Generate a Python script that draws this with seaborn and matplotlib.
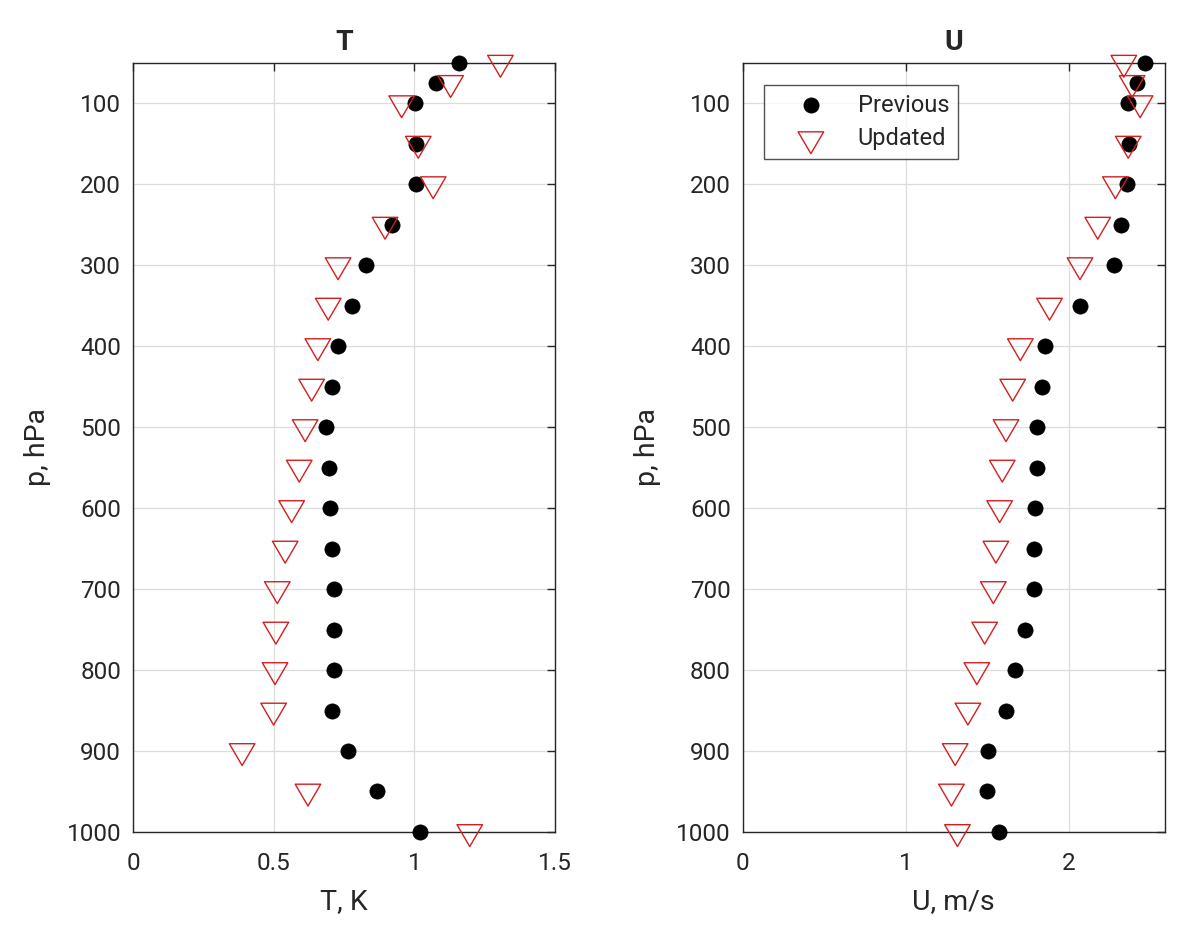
import matplotlib
matplotlib.use("Agg")
import matplotlib.pyplot as plt
from matplotlib.path import Path
import numpy as np
import pandas as pd
import seaborn as sns

# уровни давления, hPa
levels = [50, 75, 100, 150, 200, 250, 300, 350, 400, 450, 500,
          550, 600, 650, 700, 750, 800, 850, 900, 950, 1000]

# T, K
t_previous = [1.158, 1.076, 1.001, 1.007, 1.007, 0.920, 0.830, 0.780, 0.730, 0.707, 0.686,
              0.695, 0.699, 0.707, 0.713, 0.713, 0.713, 0.709, 0.766, 0.869, 1.019]
t_updated = [1.306, 1.129, 0.955, 1.014, 1.067, 0.896, 0.729, 0.694, 0.657, 0.635, 0.612,
             0.591, 0.564, 0.541, 0.513, 0.508, 0.505, 0.500, 0.388, 0.622, 1.197]

# U, m/s
u_previous = [2.470, 2.419, 2.366, 2.368, 2.359, 2.320, 2.281, 2.070, 1.858, 1.836, 1.805,
              1.805, 1.795, 1.789, 1.789, 1.733, 1.671, 1.616, 1.507, 1.499, 1.571]
u_updated = [2.339, 2.390, 2.439, 2.366, 2.287, 2.179, 2.070, 1.883, 1.704, 1.657, 1.616,
             1.593, 1.577, 1.554, 1.538, 1.485, 1.437, 1.382, 1.304, 1.281, 1.318]

series_labels = ["Previous", "Updated"]
panel_titles = ["T", "U"]
x_labels = ["T, K", "U, m/s"]
x_limits = [(0, 1.5), (0, 2.59)]
x_ticks = [[0, 0.5, 1, 1.5], [0, 1, 2]]
y_ticks = [100, 200, 300, 400, 500, 600, 700, 800, 900, 1000]

RED = "#D41E1E"
DARK = "#262626"

# треугольник вершиной вниз, центрированный по центру масс (как в MATLAB)
tri_h = 1.71
tri_down = Path([(-1, tri_h / 3), (1, tri_h / 3), (0, -2 * tri_h / 3), (-1, tri_h / 3)],
                [Path.MOVETO, Path.LINETO, Path.LINETO, Path.CLOSEPOLY])

sns.set_theme(style="white")
plt.rcParams["font.family"] = ["Roboto", "DejaVu Sans"]

fig = plt.figure(figsize=(12, 9.42), dpi=100)
ax_t = fig.add_axes([0.1108, 0.1168, 0.3517, 0.8167])
ax_u = fig.add_axes([0.6189, 0.1168, 0.3517, 0.8167])

panels = [(ax_t, t_previous, t_updated), (ax_u, u_previous, u_updated)]
for i, (ax, prev, upd) in enumerate(panels):
    df = pd.DataFrame({"p": levels, "prev": prev, "upd": upd})
    sns.scatterplot(data=df, x="prev", y="p", ax=ax, marker="o", s=120,
                    color="black", edgecolor="black", linewidth=0.5,
                    label=series_labels[0], zorder=3)
    sns.scatterplot(data=df, x="upd", y="p", ax=ax, marker=tri_down, s=440,
                    facecolor="none", edgecolor=RED, linewidth=1.0,
                    label=series_labels[1], zorder=4)

    ax.set_xlim(*x_limits[i])
    ax.set_ylim(1000, 50)
    ax.set_xticks(x_ticks[i])
    ax.set_xticklabels([f"{v:g}" for v in x_ticks[i]])
    ax.set_yticks(y_ticks)
    ax.grid(True, color="#DCDCDC", linewidth=0.9)
    ax.set_axisbelow(True)
    ax.tick_params(direction="in", top=True, right=True, length=6, width=1,
                   colors=DARK, labelsize=17.5)
    ax.tick_params(axis="x", pad=14.5)
    ax.tick_params(axis="y", pad=8.5)
    for sp in ax.spines.values():
        sp.set_color(DARK)
        sp.set_linewidth(1.0)
        sp.set_visible(True)
    ax.set_title(panel_titles[i], fontsize=20.5, fontweight="bold", pad=9)
    ax.set_xlabel(x_labels[i], fontsize=20.5, color=DARK, labelpad=9)
    ax.set_ylabel("p, hPa", fontsize=20.5, color=DARK, labelpad=11)
    for c in ax.collections:
        c.set_clip_on(False)

ax_t.get_legend().remove()
leg = ax_u.legend(loc="upper left", bbox_to_anchor=(0.05, 0.971), borderaxespad=0,
                  frameon=True, fancybox=False, edgecolor=DARK, fontsize=17,
                  handletextpad=0.35, borderpad=0.37, labelspacing=0.45,
                  handlelength=3.25)
leg.get_frame().set_linewidth(1.0)

fig.savefig("out.png", dpi=100, facecolor="white")
